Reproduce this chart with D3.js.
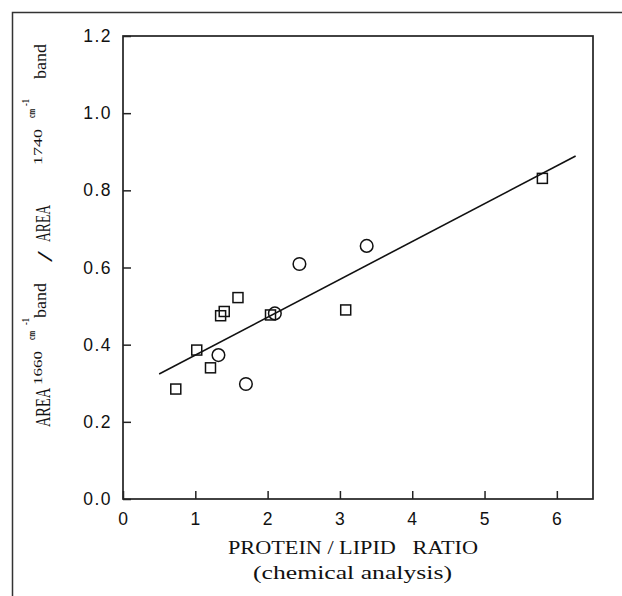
<!DOCTYPE html>
<html>
<head>
<meta charset="utf-8">
<script src="https://cdn.jsdelivr.net/npm/d3@7"></script>
<style>
  body { margin: 0; background: #fff; }
  .tick-label { font-family: "Liberation Sans", Arial, sans-serif; font-size: 17.5px; fill: #111; letter-spacing: 1.5px; }
  .title { font-family: "Liberation Serif", "DejaVu Serif", serif; fill: #111; }
</style>
</head>
<body>
<div class="vis-scatter"></div>
<script>
// squares
const sqX = [0.73, 1.02, 1.21, 1.35, 1.40, 1.59, 2.04, 3.08, 5.80];
const sqY = [0.285, 0.386, 0.340, 0.475, 0.486, 0.522, 0.477, 0.490, 0.831];
// circles
const ciX = [1.32, 1.70, 2.10, 2.44, 3.37];
const ciY = [0.373, 0.298, 0.481, 0.609, 0.656];
// fitted line ends
const fitX = [0.50, 6.26];
const fitY = [0.324, 0.889];
const xTicks = [0, 1, 2, 3, 4, 5, 6];
const yTicks = [0.0, 0.2, 0.4, 0.6, 0.8, 1.0, 1.2];

const W = 622, H = 596;
const margin = {top: 36, right: 29, bottom: 97, left: 123};
const width = W - margin.left - margin.right;
const height = H - margin.top - margin.bottom;

const svg = d3.select('.vis-scatter').append('svg')
    .attr('width', W)
    .attr('height', H);

// outer frame (left + top only visible)
svg.append('path')
    .attr('d', `M12.5,${H} V12.5 H${W}`)
    .attr('fill', 'none')
    .attr('stroke', '#333')
    .attr('stroke-width', 1.5);

const g = svg.append('g')
    .attr('transform', `translate(${margin.left},${margin.top})`);

const x = d3.scaleLinear().domain([0, 6.5]).range([0, width]);
const y = d3.scaleLinear().domain([0, 1.2]).range([height, 0]);

// plot box
g.append('rect')
    .attr('width', width).attr('height', height)
    .attr('fill', 'none').attr('stroke', '#222').attr('stroke-width', 1.7);

// x axis: inward ticks
const xAxis = g.append('g').attr('transform', `translate(0,${height})`);
xAxis.call(d3.axisTop(x).tickValues(d3.range(0.5, 6.5, 1)).tickSize(4).tickFormat(''));
xAxis.call(d3.axisTop(x).tickValues(xTicks).tickSize(8).tickFormat(''));
xAxis.selectAll('.domain').remove();
xAxis.selectAll('line').attr('stroke', '#222').attr('stroke-width', 1.5);
xAxis.selectAll('.lbl').data(xTicks).enter().append('text')
    .attr('class', 'tick-label')
    .attr('x', d => x(d)).attr('y', 26)
    .attr('text-anchor', 'middle')
    .style('letter-spacing', '0px')
    .text(d => d);

// y axis: inward ticks
const yAxis = g.append('g');
yAxis.call(d3.axisRight(y).tickValues(d3.range(0.1, 1.2, 0.2)).tickSize(4).tickFormat(''));
yAxis.call(d3.axisRight(y).tickValues(yTicks).tickSize(8).tickFormat(''));
yAxis.selectAll('.domain').remove();
yAxis.selectAll('line').attr('stroke', '#222').attr('stroke-width', 1.5);
yAxis.selectAll('.lbl').data(yTicks).enter().append('text')
    .attr('class', 'tick-label')
    .attr('x', -11).attr('y', d => y(d) + 6)
    .attr('text-anchor', 'end')
    .text(d => d.toFixed(1));

// regression line
g.append('line')
    .attr('x1', x(fitX[0])).attr('y1', y(fitY[0]))
    .attr('x2', x(fitX[1])).attr('y2', y(fitY[1]))
    .attr('stroke', '#111').attr('stroke-width', 1.6);

// squares
const s = 10;
g.selectAll('.sq').data(sqX).enter().append('rect')
    .attr('x', (d) => x(d) - s / 2)
    .attr('y', (d, i) => y(sqY[i]) - s / 2)
    .attr('width', s).attr('height', s)
    .attr('fill', 'none').attr('stroke', '#111').attr('stroke-width', 1.5);

// circles
g.selectAll('.ci').data(ciX).enter().append('circle')
    .attr('cx', d => x(d))
    .attr('cy', (d, i) => y(ciY[i]))
    .attr('r', 6.3)
    .attr('fill', 'none').attr('stroke', '#111').attr('stroke-width', 1.5);

// x title
svg.append('text').attr('class', 'title')
    .attr('x', 228).attr('y', 554)
    .attr('textLength', 250).attr('lengthAdjust', 'spacingAndGlyphs')
    .style('font-size', '19px')
    .style('white-space', 'pre')
    .text('PROTEIN / LIPID   RATIO');
svg.append('text').attr('class', 'title')
    .attr('x', 253).attr('y', 579)
    .attr('textLength', 199).attr('lengthAdjust', 'spacingAndGlyphs')
    .style('font-size', '19px')
    .text('(chemical analysis)');

// y title, built in rotated frame
const yl = svg.append('g').attr('transform', 'translate(50,267) rotate(-90)');
const parts = [
    {t: 'AREA', x: -160, y: 0, w: 39, fs: 20},
    {t: '1660', x: -118, y: -8, w: 34, fs: 13},
    {t: 'cm', x: -73, y: -15, w: 9, fs: 10},
    {t: '-1', x: -58, y: -21, w: 7, fs: 10},
    {t: 'band', x: -51, y: -4, w: 35, fs: 17},
    {t: '/', x: 5, y: 2, w: 11, fs: 20},
    {t: 'AREA', x: 25, y: 0, w: 37, fs: 20},
    {t: '1740', x: 102, y: -8, w: 36, fs: 13},
    {t: 'cm', x: 149, y: -15, w: 9, fs: 10},
    {t: '-1', x: 161, y: -21, w: 7, fs: 10},
    {t: 'band', x: 188, y: -4, w: 35, fs: 17}
];
yl.selectAll('text').data(parts).enter().append('text')
    .attr('class', 'title')
    .attr('x', d => d.x).attr('y', d => d.y)
    .attr('textLength', d => d.w).attr('lengthAdjust', 'spacingAndGlyphs')
    .style('font-size', d => d.fs + 'px')
    .style('font-weight', d => d.fs <= 10 ? 'bold' : 'normal')
    .text(d => d.t);
</script>
</body>
</html>
